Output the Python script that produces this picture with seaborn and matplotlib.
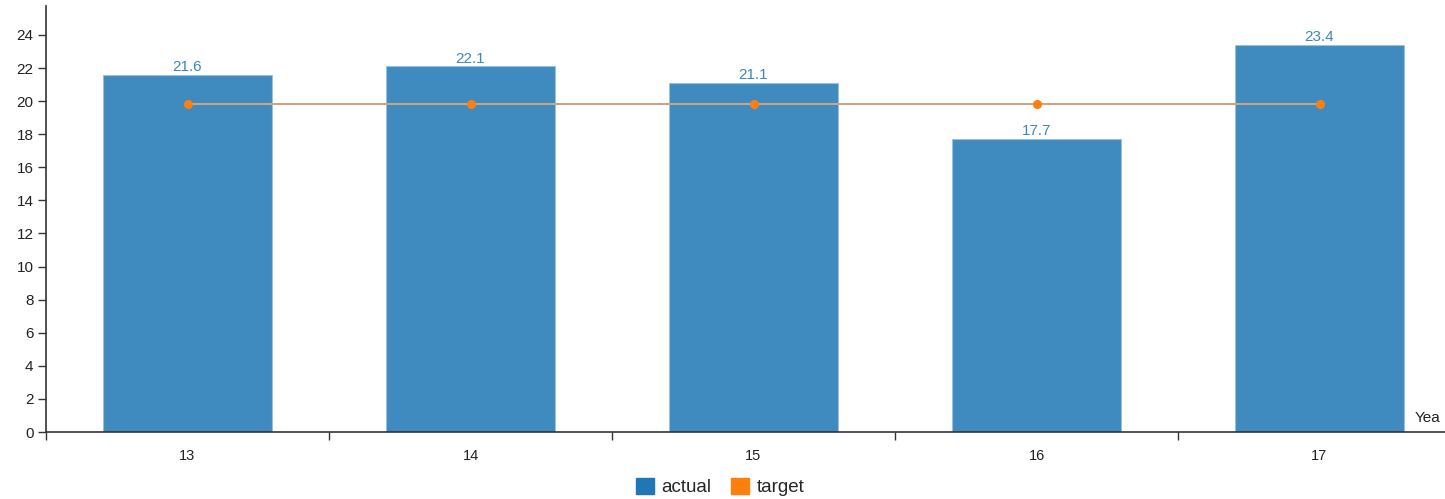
import numpy as np
import pandas as pd
import matplotlib
matplotlib.use("Agg")
import matplotlib.pyplot as plt
import seaborn as sns
from matplotlib.patches import Patch

# Data
years = ["13", "14", "15", "16", "17"]
actual = [21.6, 22.1, 21.1, 17.7, 23.4]
target = [19.8, 19.8, 19.8, 19.8, 19.8]

df = pd.DataFrame({"Year": years, "actual": actual, "target": target})

sns.set_style("white")
plt.rcParams["font.family"] = ["Liberation Sans", "DejaVu Sans"]

fig = plt.figure(figsize=(14.45, 4.99), dpi=100)
ax = fig.add_axes([46 / 1445, 1 - 432 / 499, 1415 / 1445, 426 / 499])

sns.barplot(data=df, x="Year", y="actual", color="#1f77b4", alpha=0.86,
            width=0.6, ax=ax, saturation=1, edgecolor="#9cc0dc", linewidth=0.8)
ax.plot(range(len(years)), df["target"], color="#c9a585", lw=1.5, zorder=3)
ax.scatter(range(len(years)), df["target"], color="#ff7f0e", s=30, zorder=4)

for i, v in enumerate(actual):
    ax.text(i, v + 0.05, f"{v}", ha="center", va="bottom", color="#3c88bd", fontsize=11)

ax.set_xlim(-0.5, 4.5)
ax.set_ylim(0, 25.75)
ax.set_yticks(np.arange(0, 25, 2))
ax.set_xticks(range(len(years)))
ax.set_xticklabels(years)
ax.set_xticks(np.arange(-0.5, 4.5, 1), minor=True)
ax.tick_params(axis="x", which="major", bottom=True, length=0, pad=12, labelsize=10.5,
               colors="#222222")
ax.tick_params(axis="x", which="minor", bottom=True, length=6, width=1, color="#333333")
ax.tick_params(axis="y", left=True, length=6, width=1, labelsize=11, color="#333333",
               labelcolor="#222222", pad=3)
for side in ["top", "right"]:
    ax.spines[side].set_visible(False)
for side in ["left", "bottom"]:
    ax.spines[side].set_color("#333333")
    ax.spines[side].set_linewidth(1.2)
ax.set_xlabel("")
ax.set_ylabel("")
ax.text(1415, 499 - 418, "Yea", transform=None, fontsize=11, color="#222222", va="center")

handles = [Patch(color="#1f77b4", label="actual"), Patch(color="#ff7f0e", label="target")]
fig.legend(handles=handles, loc="center", bbox_to_anchor=(720 / 1445, 1 - 487 / 499),
           ncol=2, frameon=False, fontsize=13.5, handlelength=1.0, handleheight=1.0,
           handletextpad=0.4, columnspacing=1.0)

fig.savefig("out.png", dpi=100)
